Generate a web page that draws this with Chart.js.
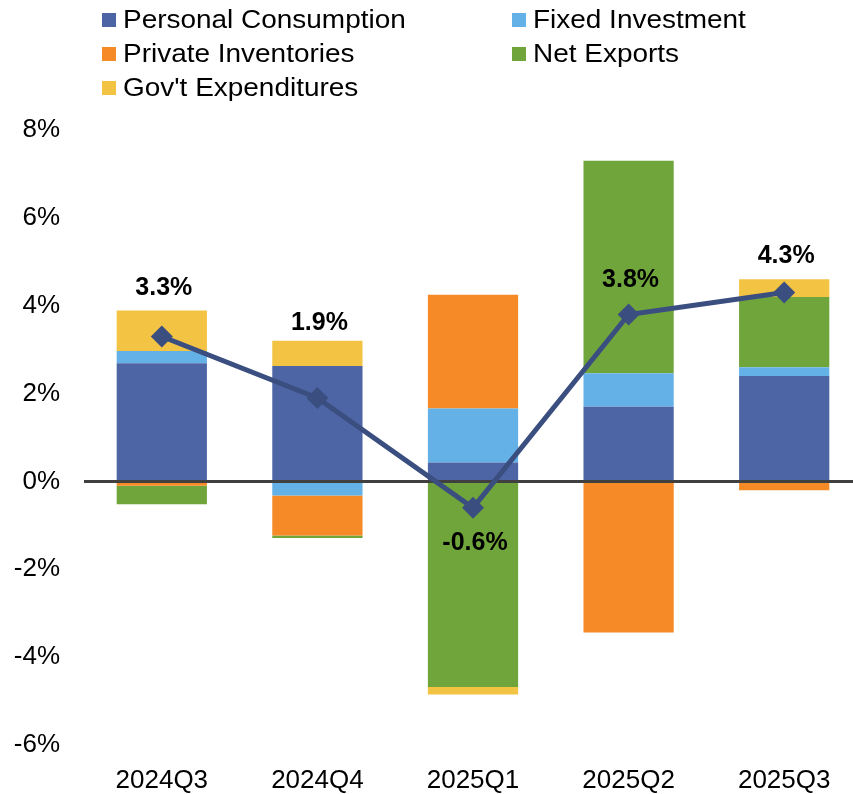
<!DOCTYPE html>
<html>
<head>
<meta charset="utf-8">
<script src="https://cdn.jsdelivr.net/npm/chart.js@4/dist/chart.umd.min.js"></script>
<style>
  html, body { margin: 0; padding: 0; background: #fff; overflow: hidden; }
  #wrap { position: relative; width: 862px; height: 794px; }
  #legend { position: absolute; left: 0; top: 0; width: 853px; font-family: Arial, "Liberation Sans", sans-serif; font-size: 26px; color: #000; }
  .item { position: absolute; display: flex; align-items: center; white-space: nowrap; }
  .box { width: 14px; height: 14px; margin-right: 7px; }
  .txt { display: inline-block; transform: scaleX(1.075); transform-origin: left center; }
</style>
</head>
<body>
<div id="wrap">
  <canvas id="gdpChart" width="862" height="794"></canvas>
  <div id="legend"></div>
</div>
<script>
const quarters = ['2024Q3', '2024Q4', '2025Q1', '2025Q2', '2025Q3'];

const seriesNames = ['Personal Consumption', 'Fixed Investment', 'Private Inventories', 'Net Exports', "Gov't Expenditures"];
const seriesColors = ['#4D65A5', '#63B1E6', '#F68A26', '#70A53C', '#F3C343'];

const personalConsumption = [2.69, 2.63, 0.43, 1.70, 2.40];
const fixedInvestment = [0.28, -0.32, 1.23, 0.76, 0.20];
const privateInventories = [-0.10, -0.91, 2.59, -3.44, -0.20];
const netExports = [-0.42, -0.06, -4.68, 4.84, 1.60];
const govExpenditures = [0.92, 0.57, -0.17, 0.00, 0.40];

const gdpGrowth = [3.3, 1.9, -0.6, 3.8, 4.3];

const yTicks = [-6, -4, -2, 0, 2, 4, 6, 8];

const seriesValues = [personalConsumption, fixedInvestment, privateInventories, netExports, govExpenditures];

// legend in two columns, built from the series arrays
const legendEl = document.getElementById('legend');
seriesNames.forEach((name, i) => {
    const div = document.createElement('div');
    div.className = 'item';
    div.style.left = (i % 2 === 0 ? 102 : 512) + 'px';
    div.style.top = (4 + Math.floor(i / 2) * 34) + 'px';
    div.innerHTML = `<span class="box" style="background:${seriesColors[i]}"></span><span class="txt">${name}</span>`;
    legendEl.appendChild(div);
});

// labels for the GDP line, offset in px from each point
const totalLabels = {
    id: 'totalLabels',
    afterDatasetsDraw(chart, args, opts) {
        const meta = chart.getDatasetMeta(chart.data.datasets.length - 1);
        const ctx = chart.ctx;
        ctx.save();
        ctx.font = 'bold 25px Arial, "Liberation Sans", sans-serif';
        ctx.fillStyle = '#000';
        ctx.textAlign = 'center';
        ctx.textBaseline = 'middle';
        meta.data.forEach((pt, i) => {
            ctx.fillText(gdpGrowth[i].toFixed(1) + '%', pt.x + 2, pt.y + opts.offsets[i]);
        });
        ctx.restore();
    }
};

const datasets = seriesNames.map((name, i) => ({
    type: 'bar',
    label: name,
    data: seriesValues[i],
    backgroundColor: seriesColors[i],
    borderWidth: 0,
    barPercentage: 0.58,
    categoryPercentage: 1,
    order: 2
}));

datasets.push({
    type: 'line',
    label: 'Real GDP',
    data: gdpGrowth,
    borderColor: '#3B4E80',
    backgroundColor: '#3B4E80',
    borderWidth: 5,
    pointStyle: 'rectRot',
    pointRadius: 11,
    pointBackgroundColor: '#3B4E80',
    pointBorderWidth: 0,
    tension: 0,
    order: 1
});

const ctx = document.getElementById('gdpChart').getContext('2d');
const chart = new Chart(ctx, {
    type: 'bar',
    data: { labels: quarters, datasets: datasets },
    options: {
        responsive: false,
        animation: false,
        layout: { autoPadding: false, padding: { top: 130, left: 0, right: 0, bottom: 0 } },
        plugins: {
            legend: { display: false },
            tooltip: { enabled: false },
            totalLabels: { offsets: [-48, -75, 35, -34, -36] }
        },
        scales: {
            x: {
                stacked: true,
                grid: { display: false },
                border: { display: false },
                ticks: {
                    color: '#000',
                    font: { family: 'Arial, "Liberation Sans", sans-serif', size: 26 },
                    padding: 12,
                    maxRotation: 0
                },
                afterFit(scale) {
                    scale.height = 49;
                    scale.paddingLeft = 0;
                    scale.paddingRight = 0;
                }
            },
            y: {
                stacked: true,
                min: -6,
                max: 8,
                afterBuildTicks(scale) { scale.ticks = yTicks.map(v => ({ value: v })); },
                grid: {
                    drawTicks: false,
                    color: c => c.tick && c.tick.value === 0 ? '#404040' : 'rgba(0,0,0,0)',
                    lineWidth: c => c.tick && c.tick.value === 0 ? 3 : 0
                },
                border: { display: false },
                ticks: {
                    color: '#000',
                    font: { family: 'Arial, "Liberation Sans", sans-serif', size: 26 },
                    padding: 24,
                    callback: v => v + '%'
                },
                afterFit(scale) { scale.width = 84; }
            }
        }
    },
    plugins: [totalLabels]
});
</script>
</body>
</html>
